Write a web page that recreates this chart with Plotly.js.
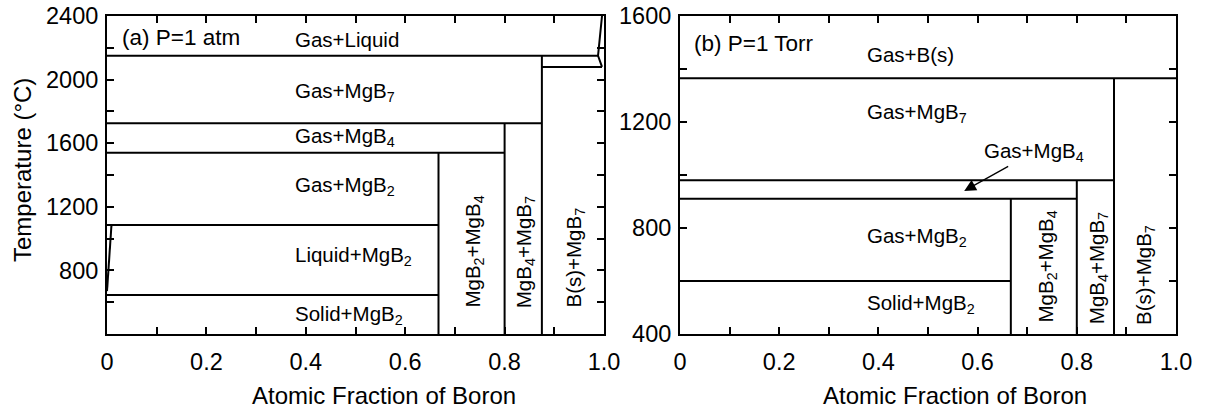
<!DOCTYPE html>
<html>
<head>
<meta charset="utf-8">
<script src="https://cdn.plot.ly/plotly-3.0.1.min.js"></script>
<style>html,body{margin:0;padding:0;background:#fff;}#chart{width:1207px;height:410px;}</style>
</head>
<body>
<div id="chart"></div>
<script>
// ---------- Panel (a): P = 1 atm ----------
const aHorizX0 = [0, 0.875, 0, 0, 0, 0];
const aHorizX1 = [0.988, 0.996, 0.875, 0.8, 0.667, 0.667];
const aHorizT  = [2150, 2080, 1725, 1540, 1085, 645];
const aVertX   = [0.875, 0.8, 0.667];
const aVertT0  = [400, 400, 400];
const aVertT1  = [2150, 1725, 1540];
const aMgLiqX  = [0, 0.009];
const aMgLiqT  = [670, 1085];
const aBLiqX   = [0.996, 0.988, 0.996];
const aBLiqT   = [2400, 2150, 2080];

const aLabelText = ["(a) P=1 atm", "Gas+Liquid", "Gas+MgB<sub>7</sub>", "Gas+MgB<sub>4</sub>", "Gas+MgB<sub>2</sub>", "Liquid+MgB<sub>2</sub>", "Solid+MgB<sub>2</sub>"];
const aLabelX    = [0.026, 0.374, 0.374, 0.374, 0.374, 0.374, 0.374];
const aLabelT    = [2264, 2255, 1923, 1641, 1331, 889, 522];
const aVLabelText = ["MgB<sub>2</sub>+MgB<sub>4</sub>", "MgB<sub>4</sub>+MgB<sub>7</sub>", "B(s)+MgB<sub>7</sub>"];
const aVLabelX    = [0.739, 0.841, 0.942];
const aVLabelT    = [920, 914, 882];

// ---------- Panel (b): P = 1 Torr ----------
const bHorizX0 = [0, 0, 0, 0];
const bHorizX1 = [1, 0.875, 0.8, 0.667];
const bHorizT  = [1365, 980, 910, 600];
const bVertX   = [0.875, 0.8, 0.667];
const bVertT0  = [400, 400, 400];
const bVertT1  = [1365, 980, 910];

const bLabelText = ["(b) P=1 Torr", "Gas+B(s)", "Gas+MgB<sub>7</sub>", "Gas+MgB<sub>2</sub>", "Solid+MgB<sub>2</sub>"];
const bLabelX    = [0.024, 0.373, 0.373, 0.373, 0.373];
const bLabelT    = [1496, 1455, 1233, 766, 515];
const bVLabelText = ["MgB<sub>2</sub>+MgB<sub>4</sub>", "MgB<sub>4</sub>+MgB<sub>7</sub>", "B(s)+MgB<sub>7</sub>"];
const bVLabelX    = [0.739, 0.843, 0.9375];
const bVLabelT    = [653, 649, 623];
const bArrowText = "Gas+MgB<sub>4</sub>";
const bArrowX    = 0.573;
const bArrowT    = 940;

// ---------- Axes ticks ----------
const xLabelVals = [0, 0.2, 0.4, 0.6, 0.8, 1.0];
const xLabelText = ["0", "0.2", "0.4", "0.6", "0.8", "1.0"];
const xTickMarks = [0, 0.1, 0.2, 0.3, 0.4, 0.5, 0.6, 0.7, 0.8, 0.9, 1.0];
const aYLabelVals = [800, 1200, 1600, 2000, 2400];
const aYLabelText = ["800", "1200", "1600", "2000", "2400"];
const aYTickMarks = [400, 600, 800, 1000, 1200, 1400, 1600, 1800, 2000, 2200, 2400];
const bYLabelVals = [400, 800, 1200, 1600];
const bYLabelText = ["400", "800", "1200", "1600"];
const bYTickMarks = [400, 600, 800, 1000, 1200, 1400, 1600];
const xTitle = "Atomic Fraction of Boron";
const yTitle = "Temperature (°C)";

// ---------- Build traces ----------
function segTrace(x0s, x1s, ys, xa, ya, vertical) {
  const xs = [], yy = [];
  for (let i = 0; i < x0s.length; i++) {
    if (vertical) { xs.push(ys[i], ys[i], null); yy.push(x0s[i], x1s[i], null); }
    else { xs.push(x0s[i], x1s[i], null); yy.push(ys[i], ys[i], null); }
  }
  return {x: xs, y: yy, xaxis: xa, yaxis: ya, mode: 'lines', type: 'scatter',
          line: {color: '#000', width: 2}, hoverinfo: 'skip', showlegend: false, connectgaps: false};
}
function curveTrace(xs, ys, xa, ya) {
  return {x: xs, y: ys, xaxis: xa, yaxis: ya, mode: 'lines', type: 'scatter',
          line: {color: '#000', width: 2}, hoverinfo: 'skip', showlegend: false};
}
function emptyTrace(xa, ya) {
  return {x: [], y: [], xaxis: xa, yaxis: ya, mode: 'lines', type: 'scatter', hoverinfo: 'skip', showlegend: false};
}

const traces = [
  segTrace(aHorizX0, aHorizX1, aHorizT, 'x', 'y', false),
  segTrace(aVertT0, aVertT1, aVertX, 'x', 'y', true),
  curveTrace(aMgLiqX, aMgLiqT, 'x', 'y'),
  curveTrace(aBLiqX, aBLiqT, 'x', 'y'),
  segTrace(bHorizX0, bHorizX1, bHorizT, 'x2', 'y2', false),
  segTrace(bVertT0, bVertT1, bVertX, 'x2', 'y2', true),
  emptyTrace('x3', 'y3'),
  emptyTrace('x4', 'y4')
];

const FONT = 'Liberation Sans, Arial, Helvetica, sans-serif';
const annotations = [];
function addLabels(texts, xs, ys, xr, yr, size) {
  for (let i = 0; i < texts.length; i++) {
    annotations.push({text: texts[i], x: xs[i], y: ys[i], xref: xr, yref: yr,
      xanchor: 'left', yanchor: 'middle', showarrow: false,
      font: {family: FONT, size: (i === 0 ? 22.5 : size), color: '#000'}});
  }
}
function addVLabels(texts, xs, ys, xr, yr) {
  for (let i = 0; i < texts.length; i++) {
    annotations.push({text: texts[i], x: xs[i], y: ys[i], xref: xr, yref: yr,
      xanchor: 'center', yanchor: 'middle', textangle: -90, showarrow: false,
      font: {family: FONT, size: 20.5, color: '#000'}});
  }
}
addLabels(aLabelText, aLabelX, aLabelT, 'x', 'y', 20.5);
addVLabels(aVLabelText, aVLabelX, aVLabelT, 'x', 'y');
addLabels(bLabelText, bLabelX, bLabelT, 'x2', 'y2', 20.5);
addVLabels(bVLabelText, bVLabelX, bVLabelT, 'x2', 'y2');
annotations.push({text: bArrowText, x: bArrowX, y: bArrowT, xref: 'x2', yref: 'y2',
  showarrow: true, ax: 70, ay: -39, axref: 'pixel', ayref: 'pixel',
  arrowhead: 2, arrowsize: 1.8, arrowwidth: 1.3, arrowcolor: '#000', standoff: 0,
  font: {family: FONT, size: 20.5, color: '#000'}});

// axis titles as annotations (paper coords)
const L = 107, R = 31, T = 16, B = 76, W = 1207, H = 410;
const pw = W - L - R, ph = H - T - B;
function px2x(px) { return (px - L) / pw; }
function py2y(py) { return (H - B - py) / ph; }
annotations.push({text: xTitle, x: px2x(384), y: py2y(395), xref: 'paper', yref: 'paper',
  xanchor: 'center', yanchor: 'middle', showarrow: false, font: {family: FONT, size: 24, color: '#000'}});
annotations.push({text: xTitle, x: px2x(955), y: py2y(395), xref: 'paper', yref: 'paper',
  xanchor: 'center', yanchor: 'middle', showarrow: false, font: {family: FONT, size: 24, color: '#000'}});
annotations.push({text: yTitle, x: px2x(22), y: py2y(170), xref: 'paper', yref: 'paper',
  xanchor: 'center', yanchor: 'middle', textangle: -90, showarrow: false, font: {family: FONT, size: 24, color: '#000'}});

const TICKFONT = {family: FONT, size: 23.5, color: '#000'};
// Label axes: invisible outside ticks push labels away from the frame
function labelAxis(domain, anchor, range, vals, text, pushLen) {
  return {domain: domain, anchor: anchor, range: range, autorange: false, tickmode: 'array', tickvals: vals, ticktext: text,
    ticks: 'outside', ticklen: pushLen, tickwidth: 1, tickcolor: 'rgba(0,0,0,0)',
    showline: true, linecolor: '#000', linewidth: 2, mirror: true,
    showgrid: false, zeroline: false, fixedrange: true, tickfont: TICKFONT};
}
// Tick axes: inside ticks on all four sides, no labels
function tickAxis(domain, anchor, overlay, range, vals) {
  return {domain: domain, anchor: anchor, overlaying: overlay, range: range, autorange: false,
    tickmode: 'array', tickvals: vals, showticklabels: false,
    ticks: 'inside', ticklen: 7, tickwidth: 2, tickcolor: '#000', mirror: 'ticks',
    showline: false, showgrid: false, zeroline: false, fixedrange: true};
}

const domA = [0, px2x(604)], domB = [px2x(680), 1];
const layout = {
  width: W, height: H, margin: {l: L, r: R, t: T, b: B, pad: 0},
  paper_bgcolor: '#fff', plot_bgcolor: '#fff', showlegend: false,
  xaxis: labelAxis(domA, 'y', [0, 1], xLabelVals, xLabelText, 5.5),
  yaxis: labelAxis([0, 1], 'x', [400, 2400], aYLabelVals, aYLabelText, 2),
  xaxis2: labelAxis(domB, 'y2', [0, 1], xLabelVals, xLabelText, 5.5),
  yaxis2: labelAxis([0, 1], 'x2', [400, 1600], bYLabelVals, bYLabelText, 2),
  xaxis3: tickAxis(domA, 'y', 'x', [0, 1], xTickMarks),
  yaxis3: tickAxis([0, 1], 'x', 'y', [400, 2400], aYTickMarks),
  xaxis4: tickAxis(domB, 'y2', 'x2', [0, 1], xTickMarks),
  yaxis4: tickAxis([0, 1], 'x2', 'y2', [400, 1600], bYTickMarks),
  annotations: annotations,
  font: {family: FONT, color: '#000'}
};

Plotly.newPlot('chart', traces, layout, {staticPlot: true, displayModeBar: false});
</script>
</body>
</html>
